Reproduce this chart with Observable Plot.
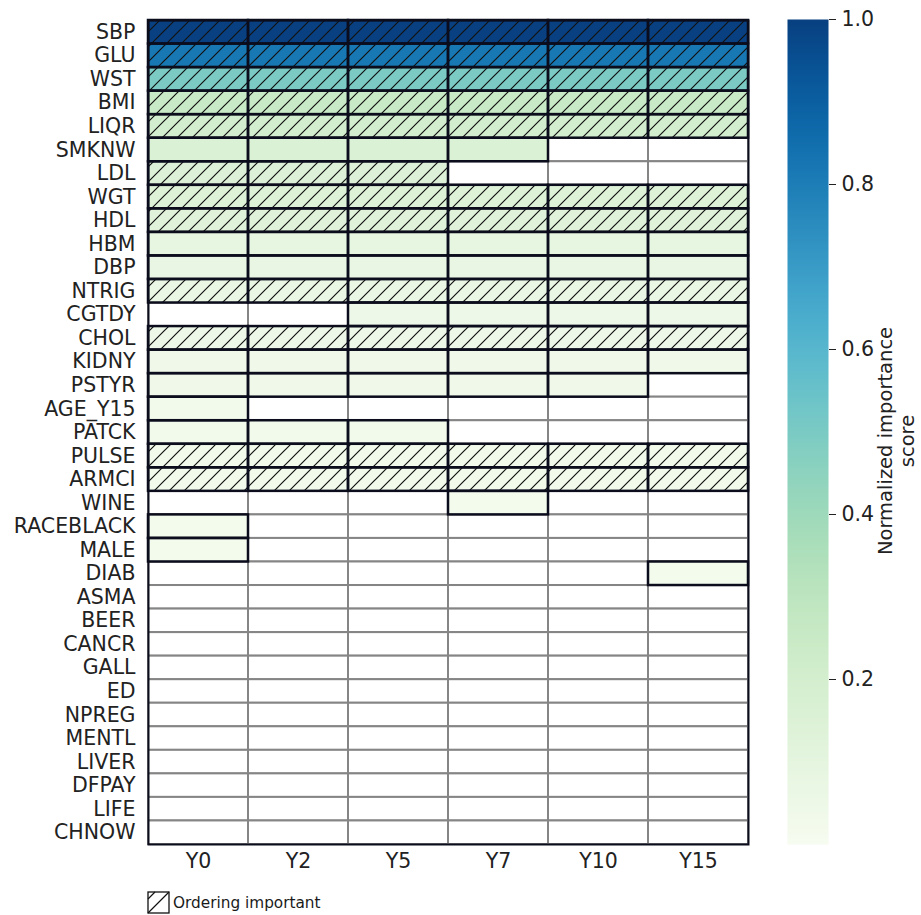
<!DOCTYPE html>
<html><head><meta charset="utf-8">
<script src="https://cdn.jsdelivr.net/npm/d3@7"></script>
<script src="https://cdn.jsdelivr.net/npm/@observablehq/plot@0.6"></script>
<style>
body{margin:0;background:#fff;font-family:"DejaVu Sans",sans-serif;}
#wrap{position:relative;width:921px;height:915px;overflow:hidden;background:#fff}
#main{position:absolute;left:0;top:0}
#cbar{position:absolute;left:760px;top:0}
#legend{position:absolute;left:147px;top:891px;display:flex;align-items:center;font-size:15.3px;color:#1a1a1a;font-family:"DejaVu Sans",sans-serif}
#legend svg{display:block;margin-right:2px}
</style></head><body><div id="wrap"><div id="main"></div><div id="cbar"></div><div id="legend"></div></div>
<script>
const features = ["SBP","GLU","WST","BMI","LIQR","SMKNW","LDL","WGT","HDL","HBM","DBP","NTRIG","CGTDY","CHOL","KIDNY","PSTYR","AGE_Y15","PATCK","PULSE","ARMCI","WINE","RACEBLACK","MALE","DIAB","ASMA","BEER","CANCR","GALL","ED","NPREG","MENTL","LIVER","DFPAY","LIFE","CHNOW"];
const years = ["Y0","Y2","Y5","Y7","Y10","Y15"];
const importance = [1.0,0.82,0.50,0.25,0.20,0.16,0.15,0.14,0.13,0.09,0.08,0.07,0.05,0.05,0.04,0.04,0.03,0.03,0.03,0.03,0.02,0.02,0.02,0.02,0,0,0,0,0,0,0,0,0,0,0];
// which years each feature was selected in (Y0 Y2 Y5 Y7 Y10 Y15)
const presence = ["111111","111111","111111","111111","111111","111100","111000","111111","111111","111111","111111","111111","001111","111111","111111","111110","100000","111000","111111","111111","000100","100000","100000","000001","000000","000000","000000","000000","000000","000000","000000","000000","000000","000000","000000"];
const orderingImportant = ["SBP","GLU","WST","BMI","LIQR","LDL","WGT","HDL","NTRIG","CHOL","PULSE","ARMCI"];
const colorbarTicks = [0.2,0.4,0.6,0.8,1.0];
const colorbarLabel = "Normalized importance\nscore";
const legendLabel = "Ordering important";

const allCells = features.flatMap((f, i) => years.map((y, j) => ({feature: f, year: y, value: importance[i], present: presence[i][j] === "1", ordered: orderingImportant.includes(f)})));
const present = allCells.filter(d => d.present);
const hatched = present.filter(d => d.ordered);

const colorOpts = {type: "linear", scheme: "gnbu", domain: [0, 1]};
const dark = "#0b0c1c";

const defsMark = () => {
  const defs = d3.create("svg:defs");
  const p = defs.append("pattern").attr("id", "hatch").attr("patternUnits", "userSpaceOnUse").attr("width", 15).attr("height", 15);
  p.append("path").attr("d", "M-2,2 L2,-2 M0,15 L15,0 M13,17 L17,13").attr("stroke", "#111").attr("stroke-width", 1.2).attr("fill", "none");
  return defs.node();
};

const main = Plot.plot({
  width: 921, height: 880,
  marginLeft: 148, marginRight: 173, marginTop: 20, marginBottom: 36,
  style: {fontFamily: "DejaVu Sans", fontSize: "20px", color: "#222", background: "transparent"},
  x: {domain: years, padding: 0, round: false, label: null},
  y: {domain: features, padding: 0, round: false, label: null},
  color: colorOpts,
  marks: [
    defsMark,
    Plot.cell(allCells, {x: "year", y: "feature", fill: "white", stroke: "#858585", strokeWidth: 2, inset: 0}),
    Plot.cell(present, {x: "year", y: "feature", fill: "value", inset: 0}),
    Plot.cell(hatched, {x: "year", y: "feature", fill: "url(#hatch)", inset: 0}),
    Plot.cell(present, {x: "year", y: "feature", fill: "none", stroke: dark, strokeWidth: 2.5, inset: 0}),
    Plot.frame({stroke: dark, strokeWidth: 2}),
    Plot.axisX({anchor: "bottom", tickSize: 0, tickPadding: 9, fontSize: 20.5, label: null}),
    Plot.axisY({anchor: "left", tickSize: 0, tickPadding: 13, fontSize: 20.5, label: null})
  ]
});
document.getElementById("main").append(main);

const cbar = Plot.plot({
  width: 161, height: 880,
  marginLeft: 27, marginRight: 93, marginTop: 19, marginBottom: 36,
  style: {fontFamily: "DejaVu Sans", fontSize: "20px", color: "#222", background: "transparent"},
  x: {domain: [0, 1], axis: null},
  y: {domain: [0, 1], axis: null},
  color: colorOpts,
  marks: [
    Plot.raster({x1: 0, x2: 1, y1: 0, y2: 1, width: 1, height: 400, fill: (x, y) => y, imageRendering: "auto"}),
    Plot.axisY({anchor: "right", ticks: colorbarTicks, tickFormat: ".1f", tickSize: 7, tickPadding: 6, fontSize: 20.5, label: null}),
    Plot.text([colorbarLabel], {frameAnchor: "middle", rotate: -90, dx: 88, dy: 9, fontSize: 19.5, lineHeight: 1.1, fill: "#222"})
  ]
});
document.getElementById("cbar").append(cbar);

// legend below the chart
const lg = d3.select("#legend");
const ls = lg.append("svg").attr("width", 24).attr("height", 24);
ls.append("rect").attr("x", 1).attr("y", 1).attr("width", 21).attr("height", 21).attr("fill", "white").attr("stroke", "#111").attr("stroke-width", 1.3);
ls.append("path").attr("d", "M1,22 L22,1 M1,8 L8,1").attr("stroke", "#111").attr("stroke-width", 1.2);
lg.append("span").text(legendLabel);
</script></body></html>
